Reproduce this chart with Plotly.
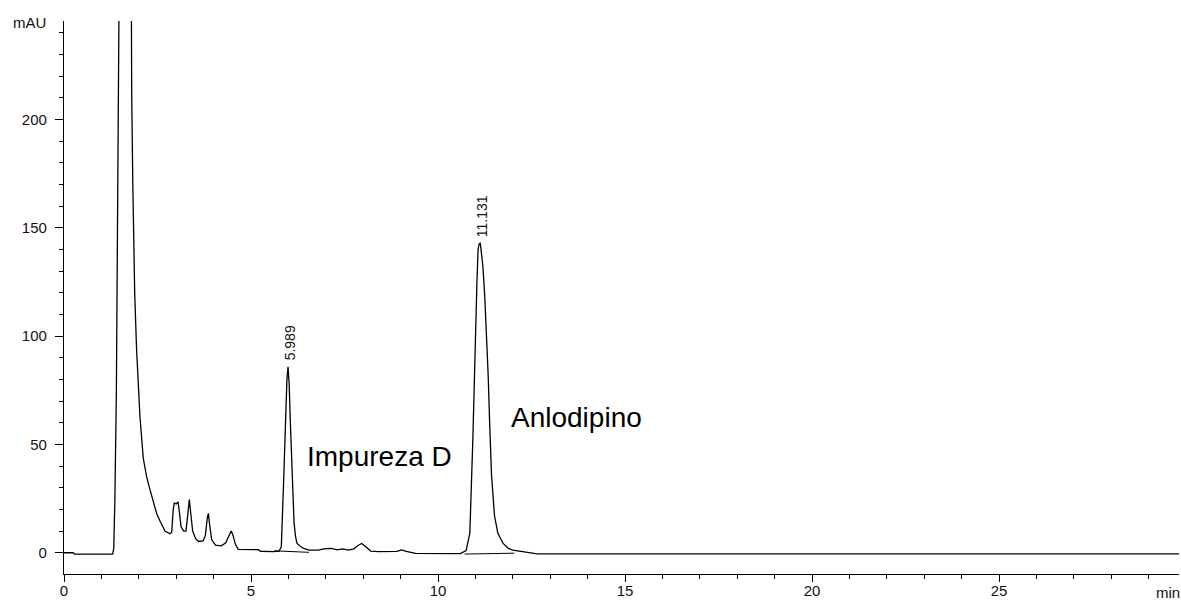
import plotly.graph_objects as go

# ---- data (time in min, signal in mAU) ----
time_min = [0.00, 0.25, 0.28, 1.30, 1.33, 1.36, 1.40, 1.43, 1.47, 1.55, 1.65, 1.75, 1.79, 1.81, 1.84, 1.89,
            1.94, 2.03, 2.12, 2.21, 2.30, 2.39, 2.48, 2.57, 2.70, 2.83, 2.88, 2.92, 2.95, 3.00, 3.05,
            3.09, 3.13, 3.20, 3.26, 3.30, 3.35, 3.39, 3.44, 3.52, 3.60, 3.72, 3.78, 3.83, 3.86, 3.90,
            3.95, 4.05, 4.20, 4.32, 4.40, 4.47, 4.52, 4.58, 4.66, 5.20, 5.25, 5.60, 5.75, 5.81, 5.87,
            5.92, 5.96, 5.99, 6.02, 6.05, 6.10, 6.15, 6.19, 6.23, 6.32, 6.41, 6.55, 6.80, 6.95, 7.15,
            7.30, 7.45, 7.60, 7.75, 7.87, 7.96, 8.05, 8.20, 8.40, 8.90, 9.03, 9.15, 9.40, 10.60, 10.75,
            10.85, 10.93, 10.98, 11.01, 11.04, 11.07, 11.10, 11.13, 11.17, 11.20, 11.25, 11.29, 11.34,
            11.38, 11.43, 11.51, 11.60, 11.74, 11.88, 12.00, 12.30, 12.65, 29.81]
signal_mau = [0.0, 0.0, -0.6, -0.6, 2.0, 24.0, 74.0, 160.0, 250.0, 900.0, 1000.0, 500.0, 250.0, 211.0, 170.0, 120.0,
              94.0, 63.0, 43.5, 35.0, 29.0, 23.0, 18.0, 14.5, 10.0, 8.8, 9.5, 20.0, 23.0, 22.5, 23.5,
              18.0, 12.0, 10.0, 10.0, 16.0, 24.5, 18.0, 10.0, 6.5, 5.2, 5.5, 8.0, 16.0, 18.2, 12.0,
              6.0, 3.5, 3.2, 4.5, 7.5, 10.0, 8.0, 4.0, 1.6, 1.4, 0.7, 0.5, 0.8, 2.8, 32.0,
              61.0, 80.0, 85.8, 78.0, 61.0, 32.0, 14.0, 7.4, 4.3, 3.0, 2.0, 1.2, 1.2, 1.8, 2.0,
              1.3, 1.8, 1.2, 1.8, 3.5, 4.3, 3.0, 0.8, 0.5, 0.6, 1.3, 0.6, -0.3, -0.4, 1.0,
              9.0, 52.0, 90.0, 101.0, 125.0, 140.0, 142.5, 143.0, 137.0, 132.0, 118.0, 104.0, 82.0,
              60.0, 36.0, 17.0, 9.0, 4.3, 2.0, 1.2, 0.3, -0.5, -0.5]

# integration baselines under the labelled peaks
base1_t = [5.62, 6.55]
base1_v = [0.9, 0.2]
base2_t = [10.71, 12.04]
base2_v = [-0.6, -0.2]

# labelled peaks
peak_times = [5.989, 11.131]
peak_heights = [85.8, 143.0]
peak_labels = ["5.989", "11.131"]

# compound names
name_texts = ["Impureza D", "Anlodipino"]
name_x = [6.45, 11.90]
name_y = [44.2, 62.6]

x_ticks = [0, 5, 10, 15, 20, 25]
y_ticks = [0, 50, 100, 150, 200]

FONT = "Liberation Sans, Arial, sans-serif"

fig = go.Figure()
fig.add_trace(go.Scatter(x=time_min, y=signal_mau, mode="lines",
                         line=dict(color="#000000", width=1.3), hoverinfo="skip"))
for bt, bv in ((base1_t, base1_v), (base2_t, base2_v)):
    fig.add_trace(go.Scatter(x=bt, y=bv, mode="lines",
                             line=dict(color="#000000", width=1), hoverinfo="skip"))

W, H = 1181, 601
ML, MR, MT, MB = 64, 2, 21, 27
pw, ph = W - ML - MR, H - MT - MB

annotations = []
for t, h, lab in zip(peak_times, peak_heights, peak_labels):
    annotations.append(dict(x=t, y=h, xref="x", yref="y", text=lab, showarrow=False,
                            textangle=-90, xanchor="center", yanchor="bottom",
                            xshift=2, yshift=4, font=dict(family=FONT, size=14, color="#111")))
for tx, xx, yy in zip(name_texts, name_x, name_y):
    annotations.append(dict(x=xx, y=yy, xref="x", yref="y", text=tx, showarrow=False,
                            xanchor="left", yanchor="middle",
                            font=dict(family=FONT, size=28, color="#000")))
annotations.append(dict(x=(11 - ML) / pw, y=1 - (22 - MT) / ph, xref="paper", yref="paper",
                        text="mAU", showarrow=False, xanchor="left", yanchor="middle",
                        font=dict(family=FONT, size=15, color="#111")))
annotations.append(dict(x=(1168 - ML) / pw, y=-(592 - (H - MB)) / ph, xref="paper", yref="paper",
                        text="min", showarrow=False, xanchor="center", yanchor="middle",
                        font=dict(family=FONT, size=15, color="#111")))

fig.update_layout(
    width=W, height=H,
    margin=dict(l=ML, r=MR, t=MT, b=MB, pad=0),
    paper_bgcolor="white", plot_bgcolor="white",
    showlegend=False,
    annotations=annotations,
    xaxis=dict(range=[0, 29.81], tickvals=x_ticks, ticktext=[str(v) for v in x_ticks],
               showgrid=False, zeroline=False, showline=True, linecolor="#000", linewidth=1.2,
               ticks="outside", ticklen=7, tickwidth=1.2, tickcolor="#000",
               minor=dict(dtick=1, ticks="outside", ticklen=4, tickwidth=1.2, tickcolor="#000", showgrid=False),
               tickfont=dict(family=FONT, size=15, color="#111"), automargin=False,
               ticklabelstandoff=-4),
    yaxis=dict(range=[-9.8, 245.4], tickvals=y_ticks, ticktext=[str(v) for v in y_ticks],
               showgrid=False, zeroline=False, showline=True, linecolor="#000", linewidth=1.2,
               ticks="outside", ticklen=8, tickwidth=1.2, tickcolor="#000",
               minor=dict(dtick=10, ticks="outside", ticklen=4, tickwidth=1.2, tickcolor="#000", showgrid=False),
               tickfont=dict(family=FONT, size=15, color="#111"), automargin=False,
               ticklabelstandoff=5),
)

fig.write_html("out.html", config={"displayModeBar": False})
